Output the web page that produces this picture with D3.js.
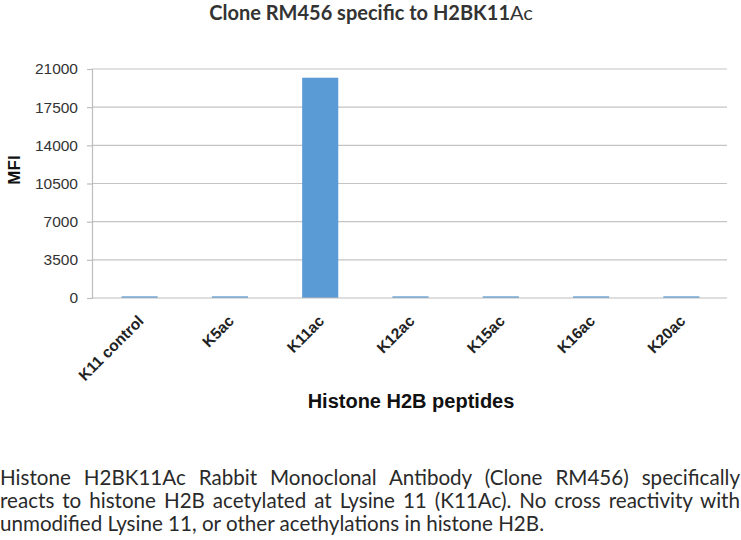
<!DOCTYPE html>
<html><head><meta charset="utf-8">
<script src="https://cdn.jsdelivr.net/npm/d3@7"></script>
<style>
html,body{margin:0;padding:0;background:#fff;}
#cap{position:absolute;left:0;top:466px;width:740px;font-family:Lato,"Open Sans",sans-serif;font-size:20.6px;line-height:23px;color:#2a2a2a;}
#cap div{white-space:nowrap;}
#cap .j{text-align:justify;text-align-last:justify;}
</style></head><body>
<svg id="chart" width="741" height="455" style="position:absolute;left:0;top:0"></svg>
<div id="cap">
<div class="j">Histone H2BK11Ac Rabbit Monoclonal Antibody (Clone RM456) specifically</div>
<div class="j">reacts to histone H2B acetylated at Lysine 11 (K11Ac). No cross reactivity with</div>
<div>unmodified Lysine 11, or other acethylations in histone H2B.</div>
</div>
<script>
const categories = ["K11 control","K5ac","K11ac","K12ac","K15ac","K16ac","K20ac"];
const values = [150,150,20200,150,150,150,150];
const yTicks = [0,3500,7000,10500,14000,17500,21000];

const svg = d3.select("#chart");
const m = {left:92, right:727, top:69, bottom:298};
const x = d3.scaleBand().domain(categories).range([94.5,726.5]).paddingInner(0.6).paddingOuter(0.3);
const y = d3.scaleLinear().domain([0,21000]).range([m.bottom,m.top]);

// gridlines
svg.append("g").selectAll("line").data(yTicks.filter(d=>d>0)).join("line")
  .attr("x1",m.left).attr("x2",m.right).attr("y1",d=>y(d)).attr("y2",d=>y(d))
  .attr("stroke","#c4c4c4").attr("stroke-width",1.2);

// bars
svg.append("g").selectAll("rect").data(values).join("rect")
  .attr("x",(d,i)=>x(categories[i])).attr("width",x.bandwidth())
  .attr("y",d=>y(d)).attr("height",d=>y(0)-y(d))
  .attr("fill","#5b9bd5");

// y axis
const ya = svg.append("g").attr("transform",`translate(${m.left},0)`)
  .call(d3.axisLeft(y).tickValues(yTicks).tickSize(5).tickPadding(9).tickFormat(d3.format("d")));
ya.select(".domain").attr("stroke","#bdbdbd").attr("stroke-width",1.2);
ya.selectAll(".tick line").attr("stroke","#bdbdbd").attr("stroke-width",1.2);
ya.selectAll("text").attr("font-family","'Liberation Sans',Arial,sans-serif").attr("font-size","15.5px").attr("fill","#333");

// x axis line
svg.append("line").attr("x1",m.left).attr("x2",m.right).attr("y1",y(0)).attr("y2",y(0))
  .attr("stroke","#bdbdbd").attr("stroke-width",1.2);

// x labels
svg.append("g").selectAll("text").data(categories).join("text")
  .attr("transform",d=>`translate(${x(d)+x.bandwidth()/2+5},${y(0)+24}) rotate(-45)`)
  .attr("text-anchor","end")
  .attr("font-family","'Liberation Sans',Arial,sans-serif").attr("font-weight","bold")
  .attr("font-size","15.5px").attr("fill","#222").text(d=>d);

// title
const t = svg.append("text").attr("x",371).attr("y",20).attr("text-anchor","middle")
  .attr("font-family","Lato,sans-serif").attr("font-size","20px").attr("font-weight","bold").attr("fill","#333");
t.append("tspan").text("Clone RM456 specific to H2BK11");
t.append("tspan").attr("font-weight","normal").text("Ac");

// y title
svg.append("text").attr("transform","translate(20,170) rotate(-90)").attr("text-anchor","middle")
  .attr("font-family","'Liberation Sans',Arial,sans-serif").attr("font-weight","bold").attr("font-size","17px").attr("fill","#111").text("MFI");

// x title
svg.append("text").attr("x",411).attr("y",408).attr("text-anchor","middle")
  .attr("font-family","'Liberation Sans',Arial,sans-serif").attr("font-weight","bold").attr("font-size","20px").attr("fill","#111").text("Histone H2B peptides");
</script>
</body></html>
